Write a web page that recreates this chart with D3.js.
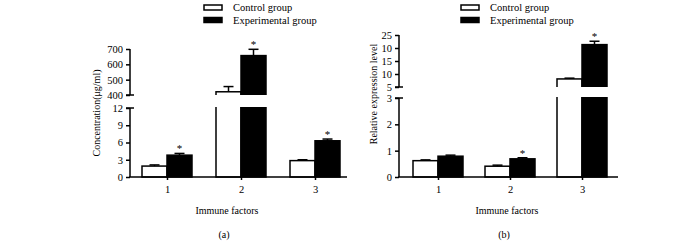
<!DOCTYPE html>
<html><head><meta charset="utf-8">
<script src="https://cdn.jsdelivr.net/npm/d3@7"></script>
<style>body{margin:0;background:#fff}svg text{font-family:"Liberation Serif","DejaVu Serif",serif;fill:#000}</style>
</head><body><svg id="c" width="700" height="241"></svg>
<script>
// ---- data ----
const categories = ["1","2","3"];
const seriesNames = ["Control group","Experimental group"];
// Panel (a) Concentration (μg/ml)
const aControl = [1.9, 421, 2.85];
const aControlErr = [0.2, 34, 0.15];
const aExp = [3.8, 657, 6.3];
const aExpErr = [0.3, 41, 0.3];
const aStars = [true, true, true];
const aLowerTicks = [0, 3, 6, 9, 12];
const aUpperTicks = [400, 500, 600, 700];
const aUpperTickLabels = ["400","500","600","700"];
// Panel (b) Relative expression level
const bControl = [0.62, 0.41, 8.1];
const bControlErr = [0.03, 0.04, 0.3];
const bExp = [0.79, 0.69, 21.3];
const bExpErr = [0.04, 0.04, 1.3];
const bStars = [false, true, true];
const bLowerTicks = [0, 1, 2, 3];
const bUpperTicks = [5, 10, 15, 20, 25];
const bUpperTickLabels = ["5","10","15","10","25"];

const svg = d3.select("#c");
let clipId = 0;

function panel(cfg){
  const g = svg.append("g");
  const x = d3.scalePoint().domain(categories).range(cfg.xRange);
  const yL = d3.scaleLinear().domain(cfg.lowerDomain).range([cfg.baseY, cfg.lowerTop]);
  const yU = d3.scaleLinear().domain(cfg.upperDomain).range([cfg.upperBottom, cfg.upperTop]);
  const bw = 25;
  const segs = [
    {y: yL, clipTop: cfg.lowerTop, clipBot: cfg.baseY + 2, max: cfg.lowerDomain[1], min: cfg.lowerDomain[0]},
    {y: yU, clipTop: 0, clipBot: cfg.upperBottom, max: cfg.upperDomain[1], min: cfg.upperDomain[0]}
  ];
  const series = [
    {vals: cfg.control, errs: cfg.controlErr, fill: "#fff", off: -bw},
    {vals: cfg.exp, errs: cfg.expErr, fill: "#000", off: 0}
  ];
  segs.forEach(s => {
    const id = "clip" + (clipId++);
    g.append("clipPath").attr("id", id).append("rect")
      .attr("x", cfg.axisX).attr("y", s.clipTop - 1)
      .attr("width", cfg.axisEnd - cfg.axisX + 20).attr("height", s.clipBot - s.clipTop + 1);
    const sg = g.append("g").attr("clip-path", `url(#${id})`);
    series.forEach(se => {
      categories.forEach((c, i) => {
        const v = se.vals[i];
        if (v <= s.min && s !== segs[0]) return;
        const top = s.y(Math.min(v, s.max + (s.max - s.min)));
        const bottom = s === segs[0] ? s.y(0) : s.y(s.min) + 10;
        sg.append("rect")
          .attr("x", x(c) + se.off).attr("y", top)
          .attr("width", bw).attr("height", Math.max(0, bottom - top))
          .attr("fill", se.fill).attr("stroke", "#000").attr("stroke-width", 1.5);
      });
    });
    // error bars
    series.forEach(se => {
      categories.forEach((c, i) => {
        const v = se.vals[i];
        if (v > s.max || v < s.min) return;
        const e = v + se.errs[i];
        const cx = x(c) + se.off + bw / 2;
        sg.append("line").attr("x1", cx).attr("x2", cx).attr("y1", s.y(v)).attr("y2", s.y(e))
          .attr("stroke", "#000").attr("stroke-width", 1.5);
        sg.append("line").attr("x1", cx - 5).attr("x2", cx + 5).attr("y1", s.y(e)).attr("y2", s.y(e))
          .attr("stroke", "#000").attr("stroke-width", 1.5);
      });
    });
  });
  // stars
  categories.forEach((c, i) => {
    if (!cfg.stars[i]) return;
    const v = cfg.exp[i] + cfg.expErr[i];
    const s = v > cfg.lowerDomain[1] ? yU : yL;
    g.append("text").attr("x", x(c) + bw / 2).attr("y", s(v) - 1)
      .attr("text-anchor", "middle").attr("font-size", 11).text("*");
  });
  // y axes
  const axL = g.append("g").attr("transform", `translate(${cfg.axisX},0)`)
    .call(d3.axisLeft(yL).tickValues(cfg.lowerTicks).tickSize(4).tickPadding(3).tickFormat(d3.format("d")));
  const axU = g.append("g").attr("transform", `translate(${cfg.axisX},0)`)
    .call(d3.axisLeft(yU).tickValues(cfg.upperTicks).tickSize(4).tickPadding(3)
      .tickFormat((d, i) => cfg.upperTickLabels[i]));
  [axL, axU].forEach(a => {
    a.select(".domain").remove();
    a.selectAll("line").attr("stroke", "#000").attr("stroke-width", 1.5);
    a.selectAll("text").attr("font-size", 10.5).attr("font-family", '"Liberation Serif",serif');
  });
  g.append("line").attr("x1", cfg.axisX).attr("x2", cfg.axisX)
    .attr("y1", cfg.baseY).attr("y2", cfg.lowerTop).attr("stroke", "#000").attr("stroke-width", 1.5);
  g.append("line").attr("x1", cfg.axisX).attr("x2", cfg.axisX)
    .attr("y1", cfg.upperBottom).attr("y2", cfg.upperTop).attr("stroke", "#000").attr("stroke-width", 1.5);
  // break caps
  [cfg.lowerTop, cfg.upperBottom].forEach(yy => {
    g.append("line").attr("x1", cfg.axisX - 4).attr("x2", cfg.axisX + 4)
      .attr("y1", yy).attr("y2", yy).attr("stroke", "#000").attr("stroke-width", 1.5);
  });
  // x axis
  const ax = g.append("g").attr("transform", `translate(0,${cfg.baseY})`)
    .call(d3.axisBottom(x).tickSize(3).tickPadding(6));
  ax.select(".domain").remove();
  ax.selectAll("line").attr("stroke", "#000").attr("stroke-width", 1.5);
  ax.selectAll("text").attr("font-size", 10.5).attr("font-family", '"Liberation Serif",serif');
  g.append("line").attr("x1", cfg.axisX - 0.75).attr("x2", cfg.axisEnd)
    .attr("y1", cfg.baseY).attr("y2", cfg.baseY).attr("stroke", "#000").attr("stroke-width", 1.5);
  // labels
  g.append("text").attr("transform", `translate(${cfg.yLabelX},${cfg.yLabelY}) rotate(-90)`)
    .attr("text-anchor", "middle").attr("font-size", 10).text(cfg.yLabel);
  g.append("text").attr("x", cfg.xLabelX).attr("y", 214).attr("text-anchor", "middle")
    .attr("font-size", 10).text("Immune factors");
  g.append("text").attr("x", cfg.xLabelX - 3).attr("y", 238).attr("text-anchor", "middle")
    .attr("font-size", 10).text(cfg.tag);
  // legend
  seriesNames.forEach((n, i) => {
    const ly = i === 0 ? 7.5 : 20;
    g.append("rect").attr("x", cfg.legX).attr("y", ly - 2.5).attr("width", 18).attr("height", 5)
      .attr("fill", i === 0 ? "#fff" : "#000").attr("stroke", "#000").attr("stroke-width", 1.5);
    g.append("text").attr("x", cfg.legX + 29).attr("y", ly + 3.5).attr("font-size", 10.5).text(n);
  });
}

panel({
  xRange: [167, 315], axisX: 130, axisEnd: 347, baseY: 177, lowerTop: 108,
  upperBottom: 95, upperTop: 49, lowerDomain: [0, 12], upperDomain: [400, 700],
  control: aControl, controlErr: aControlErr, exp: aExp, expErr: aExpErr, stars: aStars,
  lowerTicks: aLowerTicks, upperTicks: aUpperTicks, upperTickLabels: aUpperTickLabels,
  yLabel: "Concentration(μg/ml)", yLabelX: 100, yLabelY: 113, xLabelX: 227, tag: "(a)", legX: 204
});
panel({
  xRange: [438, 582], axisX: 399, axisEnd: 618, baseY: 177, lowerTop: 98,
  upperBottom: 87, upperTop: 35, lowerDomain: [0, 3], upperDomain: [5, 25],
  control: bControl, controlErr: bControlErr, exp: bExp, expErr: bExpErr, stars: bStars,
  lowerTicks: bLowerTicks, upperTicks: bUpperTicks, upperTickLabels: bUpperTickLabels,
  yLabel: "Relative expression level", yLabelX: 377, yLabelY: 94, xLabelX: 507, tag: "(b)", legX: 461
});
</script></body></html>
